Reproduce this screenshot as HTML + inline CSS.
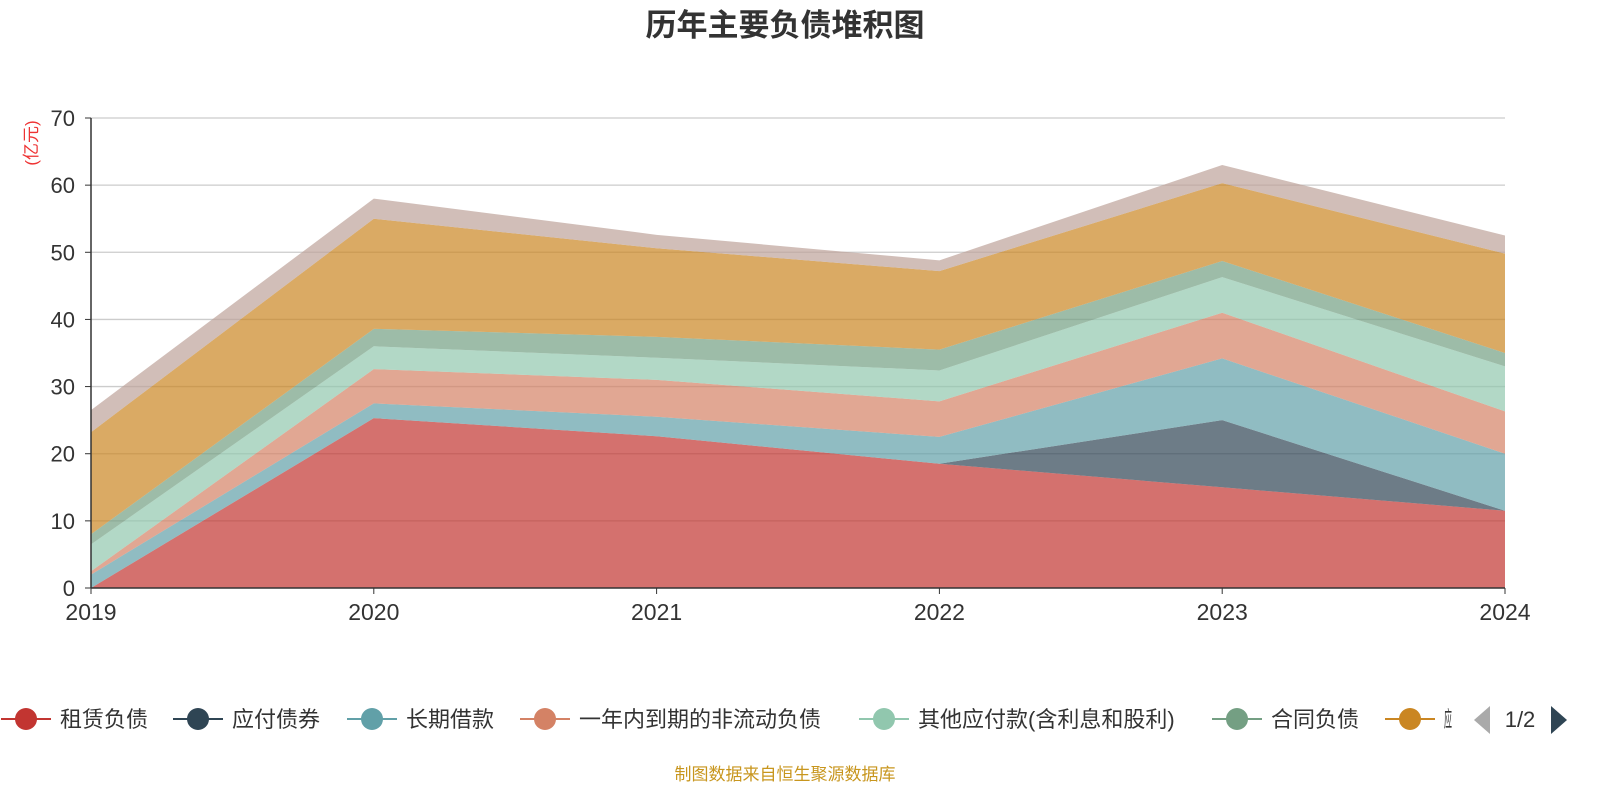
<!DOCTYPE html>
<html><head><meta charset="utf-8"><style>
body{margin:0;background:#fff;}
svg text{font-family:"Liberation Sans","Noto Sans CJK SC",sans-serif;}
</style></head><body>
<svg id="c" width="1600" height="800" xmlns="http://www.w3.org/2000/svg">
<text x="785" y="36" text-anchor="middle" font-size="31" font-weight="bold" fill="#333">历年主要负债堆积图</text>
<text transform="translate(37,143) rotate(-90)" text-anchor="middle" font-size="17" fill="#e33">(亿元)</text>
<g id="grid"></g><g id="areas"></g><g id="axes"></g><g id="legend"></g>
<text x="785" y="780" text-anchor="middle" font-size="17" fill="#c8961e">制图数据来自恒生聚源数据库</text>
</svg>
<script>
const years=["2019","2020","2021","2022","2023","2024"];
const yTicks=[0,10,20,30,40,50,60,70];
const names=["租赁负债","应付债券","长期借款","一年内到期的非流动负债","其他应付款(含利息和股利)","合同负债","应付账款","其他"];
const colors=["#c23531","#2f4554","#61a0a8","#d48265","#91c7ae","#749f83","#ca8622","#bda29a"];
const s0=[0,25.3,22.6,18.5,15,11.5];
const s1=[0,0,0,0,10,0];
const s2=[2,2.2,2.9,4,9.2,8.5];
const s3=[0.5,5.1,5.5,5.3,6.8,6.3];
const s4=[4,3.4,3.3,4.6,5.3,6.7];
const s5=[1.5,2.6,3.1,3.1,2.4,2];
const s6=[15.2,16.4,13.2,11.7,11.6,14.8];
const s7=[3.3,3,2,1.6,2.7,2.7];
const series=[s0,s1,s2,s3,s4,s5,s6,s7];
const NS="http://www.w3.org/2000/svg";
const X0=91,X1=1505,Y0=588,Y1=118;
const xs=i=>X0+(X1-X0)*i/(years.length-1);
const ys=v=>Y0-(Y0-Y1)*v/70;
function mk(tag,attrs,parent){const e=document.createElementNS(NS,tag);for(const k in attrs)e.setAttribute(k,attrs[k]);document.getElementById(parent).appendChild(e);return e;}
yTicks.forEach(t=>{
 if(t>0){const l=mk('line',{x1:X0,x2:X1,y1:ys(t),y2:ys(t),stroke:'#ccc','stroke-width':1.3},'grid');
 
 }
 const tx=mk('text',{x:X0-16,y:ys(t)+8,'text-anchor':'end','font-size':22,fill:'#333'},'axes');tx.textContent=t;
 
 
 mk('line',{x1:X0-6,x2:X0,y1:ys(t),y2:ys(t),stroke:'#333'},'axes');
});
let base=years.map(()=>0);
series.forEach((s,k)=>{
 const top=base.map((b,i)=>b+s[i]);
 let pts=top.map((v,i)=>xs(i)+','+ys(v));
 for(let i=years.length-1;i>=0;i--)pts.push(xs(i)+','+ys(base[i]));
 const p=mk('polygon',{points:pts.join(' '),fill:colors[k],'fill-opacity':0.7},'areas');
 
 
 base=top;
});
mk('line',{x1:X0,x2:X0,y1:Y1,y2:Y0,stroke:'#333','stroke-width':1.5},'axes');
mk('line',{x1:X0,x2:X1,y1:Y0,y2:Y0,stroke:'#333','stroke-width':1.5},'axes');
years.forEach((y,i)=>{
 mk('line',{x1:xs(i),x2:xs(i),y1:Y0,y2:Y0+6,stroke:'#333'},'axes');
 const t=mk('text',{x:xs(i),y:Y0+32,'text-anchor':'middle','font-size':23,fill:'#333'},'axes');t.textContent=y;
 
 
});
const lx=[26,198,372,545,884,1237,1410];
lx.forEach((x,k)=>{
 const g=mk('g',{},'legend');
 
 
 const ln=document.createElementNS(NS,'line');ln.setAttribute('x1',x-25);ln.setAttribute('x2',x+25);ln.setAttribute('y1',719);ln.setAttribute('y2',719);ln.setAttribute('stroke',colors[k]);ln.setAttribute('stroke-width',2);g.appendChild(ln);
 const c=document.createElementNS(NS,'circle');c.setAttribute('cx',x);c.setAttribute('cy',719);c.setAttribute('r',11);c.setAttribute('fill',colors[k]);g.appendChild(c);
 const t=document.createElementNS(NS,'text');t.setAttribute('x',x+34);t.setAttribute('y',727);t.setAttribute('font-size',22);t.setAttribute('fill','#333');t.textContent=names[k];
 if(k==6){t.setAttribute('textLength',8);t.textContent='应';t.setAttribute('lengthAdjust','spacingAndGlyphs');}
 g.appendChild(t);
});
const pl=mk('polygon',{points:'1490,706 1490,734 1474,720',fill:'#aaa'},'legend');


const pt=mk('text',{x:1520,y:727,'text-anchor':'middle','font-size':22,fill:'#333'},'legend');pt.textContent='1/2';


const pn=mk('polygon',{points:'1551,706 1551,734 1567,720',fill:'#2f4554'},'legend');


</script>
</body></html>
